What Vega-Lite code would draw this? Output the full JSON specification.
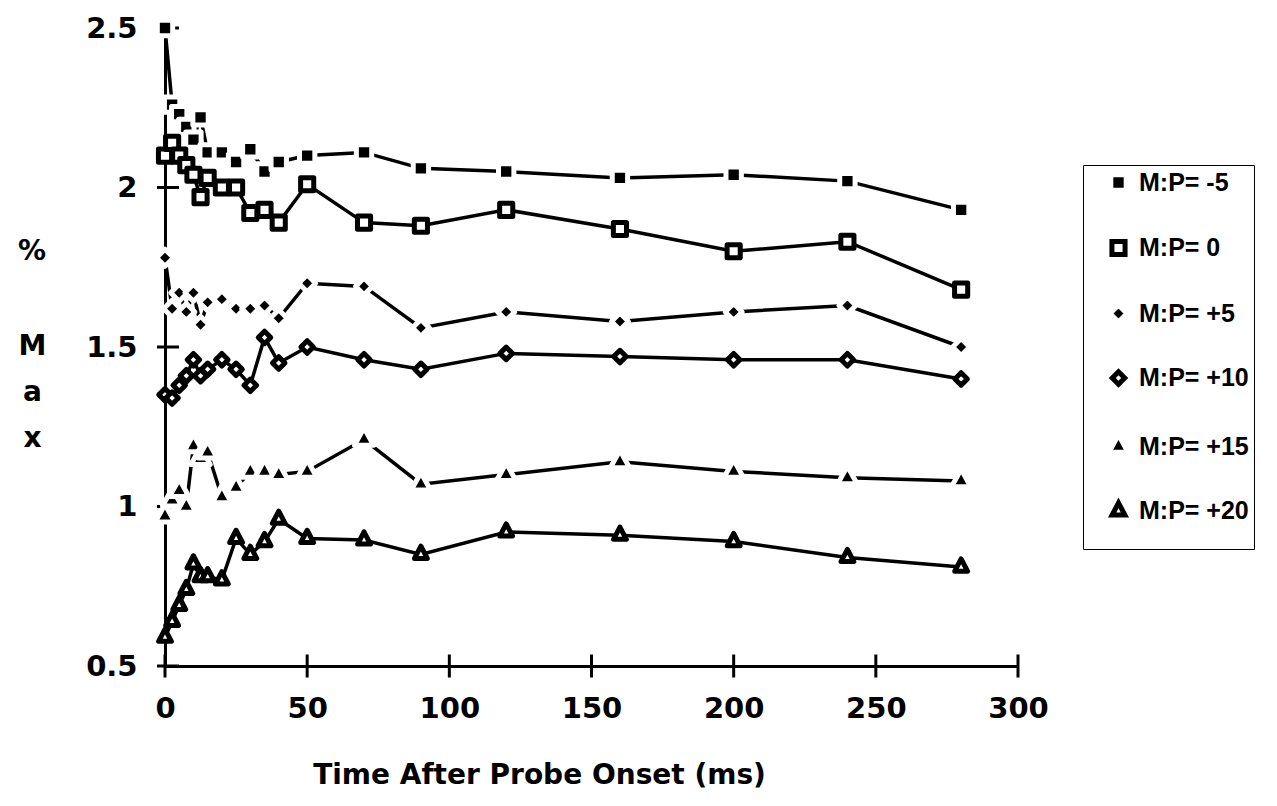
{
  "$schema": "https://vega.github.io/schema/vega-lite/v6.json",
  "width": 853,
  "height": 638,
  "autosize": "none",
  "padding": {"left": 165, "top": 28, "right": 259, "bottom": 140},
  "background": "white",
  "config": {"view": {"stroke": null}, "font": "DejaVu Sans"},
  "title": {"text": "%", "orient": "top", "anchor": "start", "align": "center", "baseline": "top", "frame": "group",
    "dx": -133, "dy": 252, "offset": 0, "font": "DejaVu Sans", "fontWeight": "bold", "fontSize": 28, "color": "black"},
  "datasets": {
    "series": [
      {"s": "M:P= -5", "t": 0, "v": 2.50}, {"s": "M:P= -5", "t": 2.5, "v": 2.26}, {"s": "M:P= -5", "t": 5, "v": 2.23}, {"s": "M:P= -5", "t": 7.5, "v": 2.19}, {"s": "M:P= -5", "t": 10, "v": 2.15}, {"s": "M:P= -5", "t": 12.5, "v": 2.22}, {"s": "M:P= -5", "t": 15, "v": 2.11}, {"s": "M:P= -5", "t": 20, "v": 2.11}, {"s": "M:P= -5", "t": 25, "v": 2.08}, {"s": "M:P= -5", "t": 30, "v": 2.12}, {"s": "M:P= -5", "t": 35, "v": 2.05}, {"s": "M:P= -5", "t": 40, "v": 2.08}, {"s": "M:P= -5", "t": 50, "v": 2.10}, {"s": "M:P= -5", "t": 70, "v": 2.11}, {"s": "M:P= -5", "t": 90, "v": 2.06}, {"s": "M:P= -5", "t": 120, "v": 2.05}, {"s": "M:P= -5", "t": 160, "v": 2.03}, {"s": "M:P= -5", "t": 200, "v": 2.04}, {"s": "M:P= -5", "t": 240, "v": 2.02}, {"s": "M:P= -5", "t": 280, "v": 1.93},
      {"s": "M:P= 0", "t": 0, "v": 2.10}, {"s": "M:P= 0", "t": 2.5, "v": 2.14}, {"s": "M:P= 0", "t": 5, "v": 2.10}, {"s": "M:P= 0", "t": 7.5, "v": 2.07}, {"s": "M:P= 0", "t": 10, "v": 2.04}, {"s": "M:P= 0", "t": 12.5, "v": 1.97}, {"s": "M:P= 0", "t": 15, "v": 2.03}, {"s": "M:P= 0", "t": 20, "v": 2.00}, {"s": "M:P= 0", "t": 25, "v": 2.00}, {"s": "M:P= 0", "t": 30, "v": 1.92}, {"s": "M:P= 0", "t": 35, "v": 1.93}, {"s": "M:P= 0", "t": 40, "v": 1.89}, {"s": "M:P= 0", "t": 50, "v": 2.01}, {"s": "M:P= 0", "t": 70, "v": 1.89}, {"s": "M:P= 0", "t": 90, "v": 1.88}, {"s": "M:P= 0", "t": 120, "v": 1.93}, {"s": "M:P= 0", "t": 160, "v": 1.87}, {"s": "M:P= 0", "t": 200, "v": 1.80}, {"s": "M:P= 0", "t": 240, "v": 1.83}, {"s": "M:P= 0", "t": 280, "v": 1.68},
      {"s": "M:P= +5", "t": 0, "v": 1.78}, {"s": "M:P= +5", "t": 2.5, "v": 1.62}, {"s": "M:P= +5", "t": 5, "v": 1.67}, {"s": "M:P= +5", "t": 7.5, "v": 1.61}, {"s": "M:P= +5", "t": 10, "v": 1.67}, {"s": "M:P= +5", "t": 12.5, "v": 1.57}, {"s": "M:P= +5", "t": 15, "v": 1.64}, {"s": "M:P= +5", "t": 20, "v": 1.65}, {"s": "M:P= +5", "t": 25, "v": 1.62}, {"s": "M:P= +5", "t": 30, "v": 1.62}, {"s": "M:P= +5", "t": 35, "v": 1.63}, {"s": "M:P= +5", "t": 40, "v": 1.59}, {"s": "M:P= +5", "t": 50, "v": 1.70}, {"s": "M:P= +5", "t": 70, "v": 1.69}, {"s": "M:P= +5", "t": 90, "v": 1.56}, {"s": "M:P= +5", "t": 120, "v": 1.61}, {"s": "M:P= +5", "t": 160, "v": 1.58}, {"s": "M:P= +5", "t": 200, "v": 1.61}, {"s": "M:P= +5", "t": 240, "v": 1.63}, {"s": "M:P= +5", "t": 280, "v": 1.50},
      {"s": "M:P= +10", "t": 0, "v": 1.35}, {"s": "M:P= +10", "t": 2.5, "v": 1.34}, {"s": "M:P= +10", "t": 5, "v": 1.38}, {"s": "M:P= +10", "t": 7.5, "v": 1.41}, {"s": "M:P= +10", "t": 10, "v": 1.46}, {"s": "M:P= +10", "t": 12.5, "v": 1.41}, {"s": "M:P= +10", "t": 15, "v": 1.43}, {"s": "M:P= +10", "t": 20, "v": 1.46}, {"s": "M:P= +10", "t": 25, "v": 1.43}, {"s": "M:P= +10", "t": 30, "v": 1.38}, {"s": "M:P= +10", "t": 35, "v": 1.53}, {"s": "M:P= +10", "t": 40, "v": 1.45}, {"s": "M:P= +10", "t": 50, "v": 1.50}, {"s": "M:P= +10", "t": 70, "v": 1.46}, {"s": "M:P= +10", "t": 90, "v": 1.43}, {"s": "M:P= +10", "t": 120, "v": 1.48}, {"s": "M:P= +10", "t": 160, "v": 1.47}, {"s": "M:P= +10", "t": 200, "v": 1.46}, {"s": "M:P= +10", "t": 240, "v": 1.46}, {"s": "M:P= +10", "t": 280, "v": 1.40},
      {"s": "M:P= +15", "t": 0, "v": 0.97}, {"s": "M:P= +15", "t": 2.5, "v": 1.02}, {"s": "M:P= +15", "t": 5, "v": 1.05}, {"s": "M:P= +15", "t": 7.5, "v": 1.00}, {"s": "M:P= +15", "t": 10, "v": 1.19}, {"s": "M:P= +15", "t": 12.5, "v": 1.15}, {"s": "M:P= +15", "t": 15, "v": 1.17}, {"s": "M:P= +15", "t": 20, "v": 1.03}, {"s": "M:P= +15", "t": 25, "v": 1.06}, {"s": "M:P= +15", "t": 30, "v": 1.11}, {"s": "M:P= +15", "t": 35, "v": 1.11}, {"s": "M:P= +15", "t": 40, "v": 1.10}, {"s": "M:P= +15", "t": 50, "v": 1.11}, {"s": "M:P= +15", "t": 70, "v": 1.21}, {"s": "M:P= +15", "t": 90, "v": 1.07}, {"s": "M:P= +15", "t": 120, "v": 1.10}, {"s": "M:P= +15", "t": 160, "v": 1.14}, {"s": "M:P= +15", "t": 200, "v": 1.11}, {"s": "M:P= +15", "t": 240, "v": 1.09}, {"s": "M:P= +15", "t": 280, "v": 1.08},
      {"s": "M:P= +20", "t": 0, "v": 0.59}, {"s": "M:P= +20", "t": 2.5, "v": 0.64}, {"s": "M:P= +20", "t": 5, "v": 0.69}, {"s": "M:P= +20", "t": 7.5, "v": 0.74}, {"s": "M:P= +20", "t": 10, "v": 0.82}, {"s": "M:P= +20", "t": 12.5, "v": 0.78}, {"s": "M:P= +20", "t": 15, "v": 0.78}, {"s": "M:P= +20", "t": 20, "v": 0.77}, {"s": "M:P= +20", "t": 25, "v": 0.90}, {"s": "M:P= +20", "t": 30, "v": 0.85}, {"s": "M:P= +20", "t": 35, "v": 0.89}, {"s": "M:P= +20", "t": 40, "v": 0.96}, {"s": "M:P= +20", "t": 50, "v": 0.90}, {"s": "M:P= +20", "t": 70, "v": 0.895}, {"s": "M:P= +20", "t": 90, "v": 0.85}, {"s": "M:P= +20", "t": 120, "v": 0.92}, {"s": "M:P= +20", "t": 160, "v": 0.91}, {"s": "M:P= +20", "t": 200, "v": 0.89}, {"s": "M:P= +20", "t": 240, "v": 0.84}, {"s": "M:P= +20", "t": 280, "v": 0.81}
    ],
    "xticks": [{"xt": 0}, {"xt": 50}, {"xt": 100}, {"xt": 150}, {"xt": 200}, {"xt": 250}, {"xt": 300}],
    "yticks": [{"yt": 0.5}, {"yt": 1}, {"yt": 1.5}, {"yt": 2}, {"yt": 2.5}]
  },
  "layer": [
    {"data": {"name": "series"},
     "mark": {"type": "line", "color": "black", "strokeWidth": 3.5},
     "encoding": {
       "x": {"field": "t", "type": "quantitative",
         "scale": {"domain": [0, 300], "nice": false, "zero": false},
         "axis": {"orient": "bottom", "values": [0, 50, 100, 150, 200, 250, 300], "grid": false,
           "domainColor": "black", "domainWidth": 3, "tickOpacity": 0, "tickSize": 11,
           "labelFont": "DejaVu Sans", "labelFontWeight": "bold", "labelFontSize": 29, "labelColor": "black",
           "labelPadding": 17, "labelFlush": false,
           "title": "Time After Probe Onset (ms)", "titleFont": "DejaVu Sans", "titleFontWeight": "bold",
           "titleFontSize": 28, "titleColor": "black", "titlePadding": 38, "titleX": 374, "titleAlign": "center", "titleAnchor": "start"}},
       "y": {"field": "v", "type": "quantitative",
         "scale": {"domain": [0.5, 2.5], "nice": false, "zero": false},
         "axis": {"orient": "left", "values": [0.5, 1, 1.5, 2, 2.5], "format": "~g", "grid": false,
           "domainColor": "black", "domainWidth": 3, "tickOpacity": 0, "tickSize": 8,
           "labelFont": "DejaVu Sans", "labelFontWeight": "bold", "labelFontSize": 29, "labelColor": "black",
           "labelPadding": 20, "labelFlush": false,
           "title": ["M", "a", "x"], "titleAngle": 0, "titleAlign": "center", "titleBaseline": "top",
           "titleX": -133, "titleY": 304, "titleLineHeight": 46,
           "titleFont": "DejaVu Sans", "titleFontWeight": "bold", "titleFontSize": 28, "titleColor": "black"}},
       "detail": {"field": "s"}}},
    {"data": {"name": "xticks"},
     "mark": {"type": "tick", "orient": "vertical", "color": "black", "size": 23, "thickness": 3, "opacity": 1},
     "encoding": {
       "x": {"field": "xt", "type": "quantitative"},
       "y": {"datum": 0.5, "type": "quantitative"}}},
    {"data": {"name": "yticks"},
     "mark": {"type": "tick", "orient": "horizontal", "color": "black", "size": 22, "thickness": 3, "opacity": 1, "xOffset": 3},
     "encoding": {
       "y": {"field": "yt", "type": "quantitative"},
       "x": {"datum": 0, "type": "quantitative"}}},
    {"data": {"name": "series"},
     "mark": {"type": "point", "size": 256, "strokeWidth": 5, "opacity": 1, "filled": true, "strokeJoin": "round"},
     "encoding": {
       "x": {"field": "t", "type": "quantitative"},
       "y": {"field": "v", "type": "quantitative"},
       "shape": {"field": "s", "type": "nominal",
         "scale": {"domain": ["M:P= -5", "M:P= 0", "M:P= +5", "M:P= +10", "M:P= +15", "M:P= +20"],
           "range": ["M-0.96,-0.96H0.96V0.96H-0.96Z", "M-0.82,-0.82H0.82V0.82H-0.82Z", "M0,-1.06L1.06,0L0,1.06L-1.06,0Z", "M0,-0.78L0.78,0L0,0.78L-0.78,0Z", "M0,-1.45L1.2,0.73L-1.2,0.73Z", "M0,-1.02L0.8,0.51L-0.8,0.51Z"]},
         "legend": {"title": " ", "titleOrient": "bottom", "titleFontSize": 12, "titlePadding": 8,
           "orient": "none", "legendX": 918, "legendY": 137,
           "strokeColor": "black", "padding": 5, "fillColor": "white",
           "symbolSize": 256, "symbolStrokeWidth": 5, "symbolOffset": 18, "labelOffset": 8,
           "rowPadding": 29.5, "labelFont": "Liberation Sans", "labelFontWeight": "bold", "labelFontSize": 25,
           "labelColor": "black", "labelLimit": 400,
           "encode": {"legend": {"update": {"strokeWidth": {"value": 2}}}}}},
       "fill": {"field": "s", "type": "nominal",
         "scale": {"domain": ["M:P= -5", "M:P= 0", "M:P= +5", "M:P= +10", "M:P= +15", "M:P= +20"],
           "range": ["black", "white", "black", "white", "black", "white"]},
         "legend": {"title": " ", "orient": "none", "legendX": 918, "legendY": 137}},
       "stroke": {"field": "s", "type": "nominal",
         "scale": {"domain": ["M:P= -5", "M:P= 0", "M:P= +5", "M:P= +10", "M:P= +15", "M:P= +20"],
           "range": ["white", "black", "white", "black", "white", "black"]},
         "legend": {"title": " ", "orient": "none", "legendX": 918, "legendY": 137}}
     }}
  ]
}
